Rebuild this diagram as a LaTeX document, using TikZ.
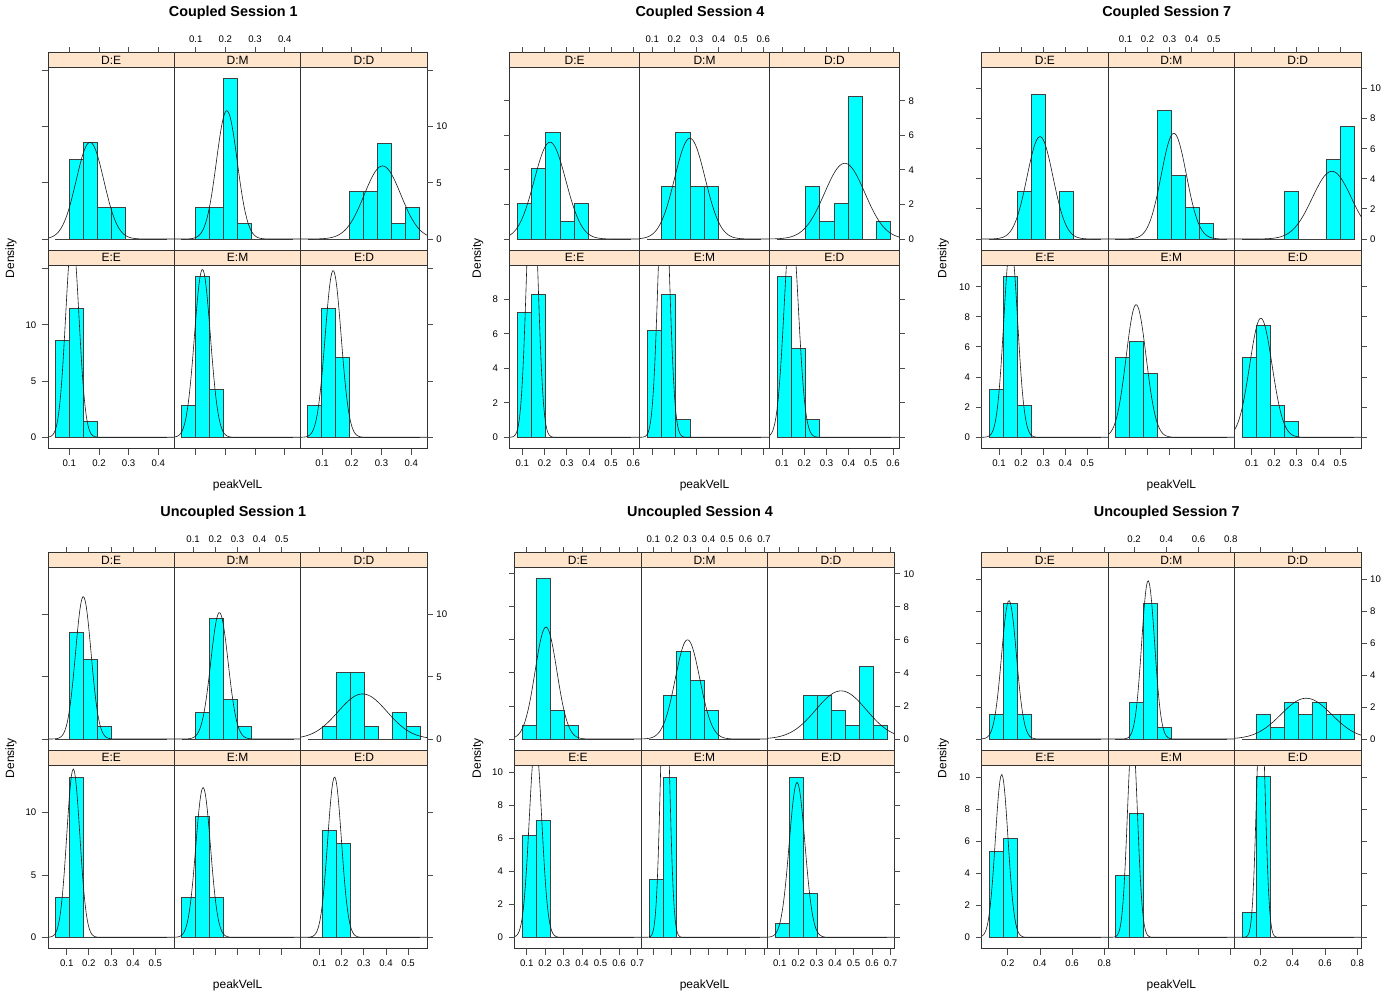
\documentclass[tikz,border=0pt]{standalone}
\usepackage{fontspec}
\setmainfont{Liberation Sans}
\definecolor{stripcol}{RGB}{255,229,204}
\definecolor{barcyan}{RGB}{0,255,255}
\tikzset{
  pframe/.style={draw=black!80, line width=0.9pt},
  sbox/.style={fill=stripcol, draw=black!80, line width=0.9pt},
  hbar/.style={fill=barcyan, draw=black!75, line width=0.75pt},
  zline/.style={draw=black!75, line width=0.75pt},
  dcurve/.style={draw=black!90, line width=0.6pt},
  tickln/.style={draw=black!70, line width=0.8pt},
  ticklab/.style={font=\fontsize{9.6}{11}\selectfont, inner sep=0pt, text height=6.9pt, text depth=0pt},
  striplab/.style={font=\fontsize{12}{14}\selectfont, inner sep=0pt},
  axlab/.style={font=\fontsize{12}{14}\selectfont, inner sep=0pt},
  ptitle/.style={font=\bfseries\fontsize{14.4}{17}\selectfont, inner sep=0pt},
}
% plot parameters: L, W, T, yscale, first break, break step, title centre, Density x, title
\newcommand\setplot[9]{\def\PL{#1}\def\PW{#2}\def\PT{#3}\def\PS{#4}\def\Bz{#5}\def\Bs{#6}\def\PC{#7}\def\DX{#8}\def\PTitle{#9}}
% panel: col, row, strip label, heights, mean, sd, peak
\newcommand\panel[7]{%
  \pgfmathsetmacro\pnX{\PL+#1*\PW}%
  \pgfmathsetmacro\pnXR{\PL+(#1+1)*\PW}%
  \ifnum#2=0
    \pgfmathsetmacro\pnST{\PT+52.7}\pgfmathsetmacro\pnSB{\PT+67.7}\pgfmathsetmacro\pnPB{\PT+250.3}\pgfmathsetmacro\pnZ{\PT+239}%
  \else
    \pgfmathsetmacro\pnST{\PT+250.3}\pgfmathsetmacro\pnSB{\PT+265.3}\pgfmathsetmacro\pnPB{\PT+448.7}\pgfmathsetmacro\pnZ{\PT+437.3}%
  \fi
  \begin{scope}
    \clip (\pnX,\pnSB) rectangle (\pnXR,\pnPB);
    \draw[zline] ({\pnX+\Bz},\pnZ) -- ({\pnX+\Bz+8*\Bs},\pnZ);
    \foreach \h [count=\k from 0] in {#4} {
      \ifdim\h pt>0pt
        \draw[hbar] ({\pnX+\Bz+\k*\Bs},\pnZ) rectangle ({\pnX+\Bz+(\k+1)*\Bs},{\pnZ-\h*\PS});
      \fi
    }
    \draw[dcurve] plot[domain=0:\PW, samples=120] ({\pnX+\x},{\pnZ-\PS*#7*exp(max(-9,-0.5*((\x-#5)/#6)^2))});
  \end{scope}
  \draw[sbox] (\pnX,\pnST) rectangle (\pnXR,\pnSB);
  \node[striplab] at ({(\pnX+\pnXR)/2},{(\pnST+\pnSB)/2}) {#3};
  \draw[pframe] (\pnX,\pnSB) rectangle (\pnXR,\pnPB);
}
% axes: x labels, first tick, tick step, y ticks, y labels
\newcommand\axes[5]{%
  \foreach \c in {0,1,2} {
    \foreach \lab [count=\j from 0] in {#1} {
      \pgfmathsetmacro\axX{\PL+\c*\PW+#2+\j*#3}
      \draw[tickln] (\axX,{\PT+52.7}) -- (\axX,{\PT+46.7});
      \draw[tickln] (\axX,{\PT+448.7}) -- (\axX,{\PT+454.7});
    }
  }
  \foreach \lab [count=\j from 0] in {#1} {
    \pgfmathsetmacro\axX{\PL+#2+\j*#3}
    \node[ticklab, anchor=base] at ({\axX+\PW},{\PT+42.6}) {\lab};
    \node[ticklab, anchor=base] at (\axX,{\PT+466.9}) {\lab};
    \node[ticklab, anchor=base] at ({\axX+2*\PW},{\PT+466.9}) {\lab};
  }
  \foreach \v in {#4} {
    \foreach \zz in {239,437.3} {
      \pgfmathsetmacro\axY{\PT+\zz-\v*\PS}
      \draw[tickln] (\PL,\axY) -- ({\PL-6},\axY);
      \draw[tickln] ({\PL+3*\PW},\axY) -- ({\PL+3*\PW+6},\axY);
    }
  }
  \foreach \v in {#5} {
    \pgfmathsetmacro\axYa{\PT+239-\v*\PS}
    \pgfmathsetmacro\axYb{\PT+437.3-\v*\PS}
    \node[ticklab, anchor=west] at ({\PL+3*\PW+9},\axYa) {\v};
    \node[ticklab, anchor=east] at ({\PL-11.6},\axYb) {\v};
  }
  \node[ptitle, anchor=base] at (\PC,{\PT+16.8}) {\PTitle};
  \node[axlab, anchor=base] at ({\PL+1.5*\PW},{\PT+488}) {peakVelL};
  \node[axlab, anchor=base, rotate=90] at (\DX,{\PT+258.2}) {Density};
}
\begin{document}
\begin{tikzpicture}[x=1pt,y=-1pt]
\useasboundingbox (0,0) rectangle (1400,1000);
\fill[white] (0,0) rectangle (1400,1000);

% ---------- Coupled Session 1
\setplot{48}{126.43}{0}{11.27}{7}{14.0}{233.3}{14}{Coupled Session 1}
\panel{0}{0}{D:E}{0,7.07,8.55,2.81,2.81,0,0,0}{42}{13.8}{8.58}
\panel{1}{0}{D:M}{0,2.81,2.81,14.26,1.39,0,0,0}{52.4}{10.4}{11.38}
\panel{2}{0}{D:D}{0,0,0,4.23,4.23,8.52,1.39,2.81}{81.7}{18.3}{6.48}
\panel{0}{1}{E:E}{8.57,11.45,1.42,0,0,0,0,0}{24.3}{6.6}{17.9}
\panel{1}{1}{E:M}{2.87,14.3,4.29,0,0,0,0,0}{28}{7.94}{14.9}
\panel{2}{1}{E:D}{2.87,11.45,7.1,0,0,0,0,0}{32.3}{8.0}{14.8}
\axes{0.1,0.2,0.3,0.4}{21.3}{29.67}{0,5,10,15}{0,5,10}

% ---------- Coupled Session 4
\setplot{509.7}{129.87}{0}{17.28}{7.7}{14.21}{700}{480.8}{Coupled Session 4}
\panel{0}{0}{D:E}{2.07,4.11,6.16,1.0,2.07,0,0,0}{40.3}{15.8}{5.6}
\panel{1}{0}{D:M}{0,3.07,6.16,3.07,3.07,0,0,0}{50.3}{15.2}{5.83}
\panel{2}{0}{D:D}{0,0,3.07,1.0,2.07,8.24,0,1.0}{75.3}{20.2}{4.38}
\panel{0}{1}{E:E}{7.23,8.27,0,0,0,0,0,0}{22.5}{5.5}{16.1}
\panel{1}{1}{E:M}{6.2,8.27,1.02,0,0,0,0,0}{24.2}{5.5}{16.1}
\panel{2}{1}{E:D}{9.29,5.15,1.02,0,0,0,0,0}{21.8}{7.0}{12.65}
\axes{0.1,0.2,0.3,0.4,0.5,0.6}{12.6}{22.2}{0,2,4,6,8}{0,2,4,6,8}

% ---------- Coupled Session 7
\setplot{981.7}{126.43}{0}{15.07}{7.3}{14.0}{1166.7}{946.3}{Coupled Session 7}
\panel{0}{0}{D:E}{0,0,3.16,9.58,0,3.16,0,0}{58.3}{13.0}{6.79}
\panel{1}{0}{D:M}{0,0,0,8.51,4.23,2.1,1.04,0}{65.7}{12.6}{7.01}
\panel{2}{0}{D:D}{0,0,0,3.16,0,0,5.29,7.45}{97.3}{19.6}{4.49}
\panel{0}{1}{E:E}{3.19,10.66,2.12,0,0,0,0,0}{29}{6.85}{12.9}
\panel{1}{1}{E:M}{5.31,6.39,4.25,0,0,0,0,0}{28}{10}{8.8}
\panel{2}{1}{E:D}{5.31,7.46,2.12,1.04,0,0,0,0}{26.3}{11.2}{7.9}
\axes{0.1,0.2,0.3,0.4,0.5}{17.3}{22.1}{0,2,4,6,8,10}{0,2,4,6,8,10}

% ---------- Uncoupled Session 1
\setplot{48}{126.43}{500}{12.48}{7.3}{14.0}{233.3}{14}{Uncoupled Session 1}
\panel{0}{0}{D:E}{0,8.55,6.39,1.02,0,0,0,0}{35.3}{7.75}{11.41}
\panel{1}{0}{D:M}{0,2.11,9.68,3.18,1.02,0,0,0}{45}{8.72}{10.13}
\panel{2}{0}{D:D}{0,1.02,5.32,5.32,1.02,0,2.11,1.02}{61.7}{24.5}{3.61}
\panel{0}{1}{E:E}{3.2,12.85,0,0,0,0,0,0}{25.3}{6.55}{13.49}
\panel{1}{1}{E:M}{3.2,9.65,3.2,0,0,0,0,0}{28.7}{7.36}{12.0}
\panel{2}{1}{E:D}{0,8.58,7.49,0,0,0,0,0}{33.7}{6.88}{12.85}
\axes{0.1,0.2,0.3,0.4,0.5}{18.7}{22.15}{0,5,10}{0,5,10}

% ---------- Uncoupled Session 4
\setplot{514.7}{126.53}{500}{16.53}{7.7}{13.94}{700}{480.8}{Uncoupled Session 4}
\panel{0}{0}{D:E}{0.85,9.74,1.74,0.85,0,0,0,0}{31.3}{10.9}{6.77}
\panel{1}{0}{D:M}{0,2.65,5.29,3.52,1.74,0,0,0}{46.3}{12.27}{6.0}
\panel{2}{0}{D:D}{0,0,2.65,2.65,1.74,0.85,4.4,0.85}{73.3}{25.3}{2.91}
\panel{0}{1}{E:E}{6.14,7.05,0,0,0,0,0,0}{20.8}{6.2}{11.87}
\panel{1}{1}{E:M}{3.51,9.7,0,0,0,0,0,0}{23.8}{4.3}{17.1}
\panel{2}{1}{E:D}{0.86,9.7,2.63,0,0,0,0,0}{29.3}{7.86}{9.37}
\axes{0.1,0.2,0.3,0.4,0.5,0.6,0.7}{12}{18.45}{0,2,4,6,8,10}{0,2,4,6,8,10}

% ---------- Uncoupled Session 7
\setplot{981.7}{126.43}{500}{15.98}{7.3}{14.0}{1166.7}{946.3}{Uncoupled Session 7}
\panel{0}{0}{D:E}{1.52,8.5,1.52,0,0,0,0,0}{27.3}{7.42}{8.66}
\panel{1}{0}{D:M}{0,2.32,8.5,0.73,0,0,0,0}{40}{6.49}{9.91}
\panel{2}{0}{D:D}{0,1.52,0.73,2.32,1.52,2.32,1.52,1.52}{71.7}{25.2}{2.55}
\panel{0}{1}{E:E}{5.39,6.16,0,0,0,0,0,0}{20}{6.31}{10.19}
\panel{1}{1}{E:M}{3.87,7.75,0,0,0,0,0,0}{24.3}{5}{12.86}
\panel{2}{1}{E:D}{1.54,10.04,0,0,0,0,0,0}{26.3}{4.2}{15.3}
\axes{0.2,0.4,0.6,0.8}{26}{32.2}{0,2,4,6,8,10}{0,2,4,6,8,10}
\end{tikzpicture}
\end{document}
